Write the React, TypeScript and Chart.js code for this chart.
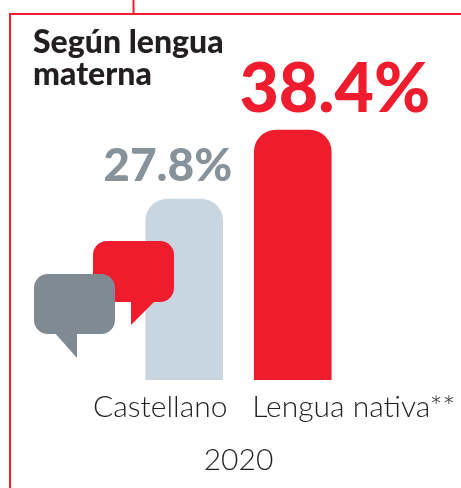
import React, { useEffect, useRef } from "react";
import { Chart, registerables } from "chart.js";

Chart.register(...registerables);

const categories = ["Castellano", "Lengua nativa**"];
const values = [27.8, 38.4];
const valueLabels = ["27.8%", "38.4%"];
const barColors = ["#C8D6E2", "#EF1C2E"];
const labelColors = ["#87929A", "#EF1C2E"];
const labelSizes = [46, 68];
const titleLines = ["Según lengua", "materna"];
const yearLabel = "2020";
const RED = "#EF1C2E";
const GRAY = "#7F8A93";
const INK = "#231F20";
const FONT = "Lato, 'Open Sans', sans-serif";

function bubble(ctx: CanvasRenderingContext2D, x: number, y: number, w: number, h: number, r: number, tail: number[], color: string) {
  ctx.fillStyle = color;
  ctx.beginPath();
  ctx.roundRect(x, y, w, h, r);
  ctx.fill();
  ctx.beginPath();
  ctx.moveTo(tail[0], tail[1]);
  ctx.lineTo(tail[2], tail[3]);
  ctx.lineTo(tail[4], tail[5]);
  ctx.closePath();
  ctx.fill();
}

const decor = {
  id: "decor",
  beforeDraw(chart: any) {
    const ctx = chart.ctx;
    ctx.save();
    ctx.strokeStyle = RED;
    ctx.lineWidth = 2;
    ctx.beginPath();
    ctx.moveTo(461, 14);
    ctx.lineTo(10, 14);
    ctx.lineTo(10, 488);
    ctx.moveTo(133.5, 0);
    ctx.lineTo(133.5, 14);
    ctx.stroke();
    ctx.restore();
  },
  afterDatasetsDraw(chart: any) {
    const ctx = chart.ctx;
    ctx.save();
    bubble(ctx, 93, 241, 81, 61, 14, [131, 300, 131, 325, 156, 300], RED);
    bubble(ctx, 34, 274, 81, 60, 14, [54, 332, 77, 358, 77, 332], GRAY);
    const meta = chart.getDatasetMeta(0);
    const area = chart.chartArea;
    ctx.textAlign = "center";
    ctx.textBaseline = "alphabetic";
    meta.data.forEach((bar: any, i: number) => {
      ctx.fillStyle = labelColors[i];
      ctx.font = `900 ${labelSizes[i]}px ${FONT}`;
      ctx.fillText(valueLabels[i], bar.x + (i === 0 ? -16.5 : 42), bar.y - 18);
      ctx.fillStyle = INK;
      ctx.font = `300 30px ${FONT}`;
      ctx.fillText(categories[i], bar.x + (i === 0 ? -24 : 61), area.bottom + 37);
    });
    ctx.restore();
  },
};

export default function App() {
  const ref = useRef<HTMLCanvasElement>(null);
  useEffect(() => {
    const chart = new Chart(ref.current!, {
      type: "bar",
      data: {
        labels: categories,
        datasets: [
          {
            data: values,
            backgroundColor: barColors,
            barThickness: 77,
            borderRadius: { topLeft: 22, topRight: 22, bottomLeft: 0, bottomRight: 0 },
            borderSkipped: false,
          },
        ],
      },
      options: {
        responsive: false,
        animation: false,
        layout: { padding: { left: 33, right: 114, top: 27, bottom: 10 } },
        plugins: {
          legend: { display: false },
          tooltip: { enabled: false },
          title: {
            display: true,
            text: titleLines,
            align: "start",
            color: INK,
            font: { family: FONT, size: 32, weight: "900", lineHeight: 1 },
            padding: 0,
          },
        },
        scales: {
          x: {
            grid: { display: false },
            border: { display: false },
            ticks: { display: false },
            title: { display: true, text: yearLabel, color: INK, font: { family: FONT, size: 30, weight: "300" }, padding: { top: 54, bottom: 0 } },
          },
          y: {
            min: 0,
            max: 44.4,
            grid: { display: false },
            border: { display: false },
            ticks: { display: false },
            afterFit(scale: any) {
              scale.width = 97;
            },
          },
        },
      },
      plugins: [decor],
    } as any);
    return () => chart.destroy();
  }, []);
  return <canvas ref={ref} width={461} height={488} style={{ position: "absolute", left: 0, top: 0, display: "block" }} />;
}
